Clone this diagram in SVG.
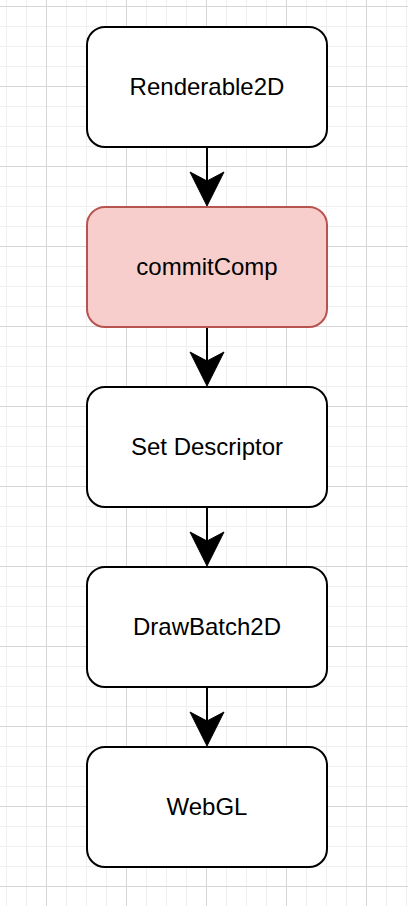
<svg xmlns="http://www.w3.org/2000/svg" width="408" height="906" viewBox="0 0 408 906">
  <style>
    .node rect { fill: #ffffff; stroke: #000000; stroke-width: 2; }
    .node.hl rect { fill: #f8cecc; stroke: #b85450; }
    .node text { font-family: "Liberation Sans", Arial, Helvetica, sans-serif; font-size: 24px; fill: #000000; text-anchor: middle; }
    .edge line { stroke: #000000; stroke-width: 2; }
    .edge path { fill: #000000; stroke: #000000; stroke-width: 1; }
  </style>
  <defs>
    <pattern id="minor" x="6" y="6" width="20" height="20" patternUnits="userSpaceOnUse">
      <path d="M0,0.5 H20 M0.5,0 V20" fill="none" stroke="#efefef" stroke-width="1"/>
    </pattern>
    <pattern id="major" x="46" y="6" width="80" height="80" patternUnits="userSpaceOnUse">
      <path d="M0,0.5 H80 M0.5,0 V80" fill="none" stroke="#d6d6d6" stroke-width="1"/>
    </pattern>
  </defs>
  <rect x="0" y="0" width="408" height="906" fill="#ffffff"/>
  <rect x="0" y="0" width="408" height="906" fill="url(#minor)"/>
  <rect x="0" y="0" width="408" height="906" fill="url(#major)"/>

  <g id="connectors" class="edge">
    <line x1="207" y1="147" x2="207" y2="184"/>
    <path d="M207,206 L190,172 L207,181 L224,172 Z"/>
    <line x1="207" y1="327" x2="207" y2="364"/>
    <path d="M207,386 L190,352 L207,361 L224,352 Z"/>
    <line x1="207" y1="507" x2="207" y2="544"/>
    <path d="M207,566 L190,532 L207,541 L224,532 Z"/>
    <line x1="207" y1="687" x2="207" y2="724"/>
    <path d="M207,746 L190,712 L207,721 L224,712 Z"/>
  </g>

  <g id="renderable2d" class="node">
    <rect x="87" y="27" width="240" height="120" rx="18" ry="18"/>
    <text x="207" y="95">Renderable2D</text>
  </g>
  <g id="commitcomp" class="node hl">
    <rect x="87" y="207" width="240" height="120" rx="18" ry="18"/>
    <text x="207" y="275">commitComp</text>
  </g>
  <g id="setdescriptor" class="node">
    <rect x="87" y="387" width="240" height="120" rx="18" ry="18"/>
    <text x="207" y="455">Set Descriptor</text>
  </g>
  <g id="drawbatch2d" class="node">
    <rect x="87" y="567" width="240" height="120" rx="18" ry="18"/>
    <text x="207" y="635">DrawBatch2D</text>
  </g>
  <g id="webgl" class="node">
    <rect x="87" y="747" width="240" height="120" rx="18" ry="18"/>
    <text x="207" y="815">WebGL</text>
  </g>
</svg>
